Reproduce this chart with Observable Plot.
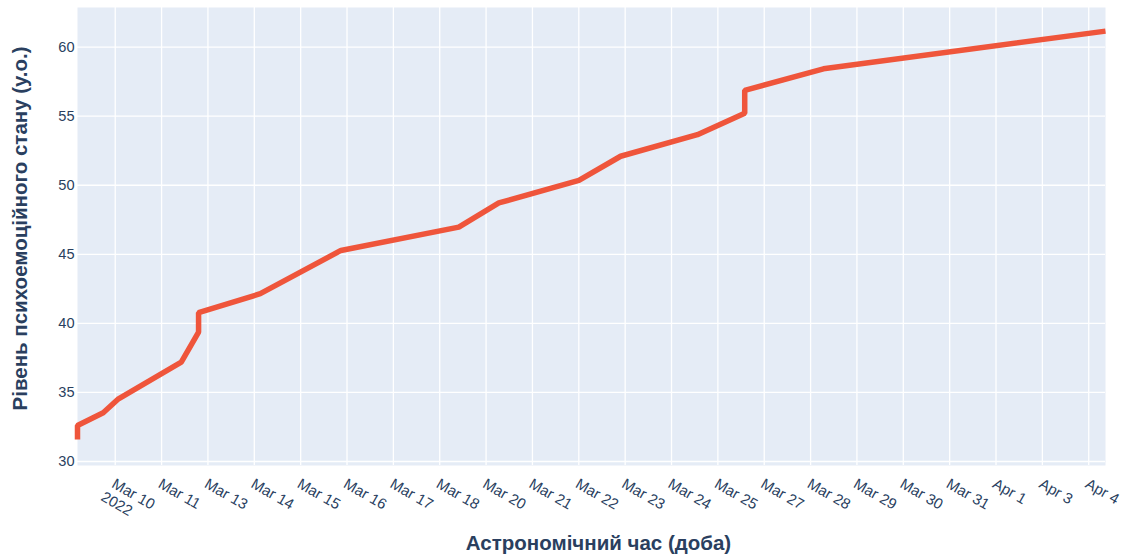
<!DOCTYPE html>
<html>
<head>
<meta charset="utf-8">
<script src="https://cdn.jsdelivr.net/npm/d3@7"></script>
<script src="https://cdn.jsdelivr.net/npm/@observablehq/plot@0.6"></script>
<style>
  html, body { margin: 0; padding: 0; background: #fff; }
</style>
</head>
<body>
<div id="chart"></div>
<script>
// ---- data ----
const times = [
  "2022-03-09T04:28", "2022-03-09T04:28", "2022-03-09T17:47", "2022-03-10T01:42",
  "2022-03-11T10:12", "2022-03-11T19:09", "2022-03-11T19:09", "2022-03-14T03:07",
  "2022-03-15T20:50", "2022-03-18T09:52", "2022-03-20T06:36", "2022-03-22T00:03",
  "2022-03-22T21:39", "2022-03-24T13:24", "2022-03-25T13:54", "2022-03-25T13:54",
  "2022-03-28T06:40", "2022-04-04T08:41"
];
const levels = [
  31.6, 32.6, 33.53, 34.54,
  37.2, 39.37, 40.77, 42.15,
  45.28, 46.97, 48.72, 50.35,
  52.1, 53.66, 55.22, 56.87,
  58.43, 61.16
];
const tickDates = [
  "2022-03-10", "2022-03-11", "2022-03-13", "2022-03-14", "2022-03-15", "2022-03-16",
  "2022-03-17", "2022-03-18", "2022-03-20", "2022-03-21", "2022-03-22", "2022-03-23",
  "2022-03-24", "2022-03-25", "2022-03-27", "2022-03-28", "2022-03-29", "2022-03-30",
  "2022-03-31", "2022-04-01", "2022-04-03", "2022-04-04"
];
const tickLabels = [
  "Mar 10", "Mar 11", "Mar 13", "Mar 14", "Mar 15", "Mar 16",
  "Mar 17", "Mar 18", "Mar 20", "Mar 21", "Mar 22", "Mar 23",
  "Mar 24", "Mar 25", "Mar 27", "Mar 28", "Mar 29", "Mar 30",
  "Mar 31", "Apr 1", "Apr 3", "Apr 4"
];
const yearLabel = "2022";
const yTicks = [30, 35, 40, 45, 50, 55, 60];
const saturdays = ["2022-03-12", "2022-03-19", "2022-03-26", "2022-04-02"];
const xTitle = "Астрономічний час (доба)";
const yTitle = "Рівень психоемоційного стану (у.о.)";

// ---- time axis with Saturdays removed (range breaks) ----
const DAY = 86400000;
const base = Date.parse("2022-03-10T00:00Z");
const satOffsets = saturdays.map(s => (Date.parse(s + "T00:00Z") - base) / DAY);
function pos(str) {
  const s = str.length === 10 ? str + "T00:00Z" : str + "Z";
  const d = (Date.parse(s) - base) / DAY;
  let removed = 0;
  for (const o of satOffsets) {
    if (d >= o + 1) removed += 1;
    else if (d > o) removed += d - o;
  }
  return d - removed;
}

const data = times.map((t, i) => ({x: pos(t), y: levels[i]}));
const tickPos = tickDates.map(pos);
const labelAt = new Map(tickPos.map((p, i) => [p, tickLabels[i]]));
const xDomain = [data[0].x, data[data.length - 1].x];

const chart = Plot.plot({
  width: 1126,
  height: 557,
  marginTop: 7,
  marginRight: 21,
  marginBottom: 92,
  marginLeft: 77,
  style: {fontFamily: "'Liberation Sans', Arial, sans-serif", color: "#2a3f5f", background: "#fff"},
  x: {type: "linear", domain: xDomain},
  y: {domain: [29.71, 62.87]},
  marks: [
    Plot.frame({fill: "#E5ECF6", stroke: null}),
    Plot.gridY(yTicks, {stroke: "#fff", strokeOpacity: 1, strokeWidth: 1.3}),
    Plot.gridX(tickPos, {stroke: "#fff", strokeOpacity: 1, strokeWidth: 1.3}),
    Plot.line(data, {x: "x", y: "y", stroke: "#EF553B", strokeWidth: 5.5, strokeLinejoin: "miter", strokeLinecap: "butt"}),
    Plot.axisY(yTicks, {tickSize: 0, tickPadding: 3, fontSize: 14.6, fill: "#2a3f5f", label: null}),
    Plot.axisX(tickPos, {tickSize: 0, tickPadding: 17, tickRotate: 30, fontSize: 15, fill: "#2a3f5f",
      dx: -2, tickFormat: d => labelAt.get(d), label: null}),
    Plot.text([yearLabel], {x: () => tickPos[0], frameAnchor: "bottom", rotate: 30, textAnchor: "start",
      lineAnchor: "top", dx: -10, dy: 25, fontSize: 15, fill: "#2a3f5f"}),
    Plot.text([xTitle], {frameAnchor: "bottom", dx: 7, dy: 78, fontSize: 20.5, fontWeight: "bold", fill: "#2a3f5f", lineAnchor: "middle"}),
    Plot.text([yTitle], {frameAnchor: "left", textAnchor: "middle", dx: -57, dy: -8, rotate: -90, fontSize: 20.5, fontWeight: "bold", fill: "#2a3f5f", lineAnchor: "middle"})
  ]
});
document.getElementById("chart").appendChild(chart);
</script>
</body>
</html>
